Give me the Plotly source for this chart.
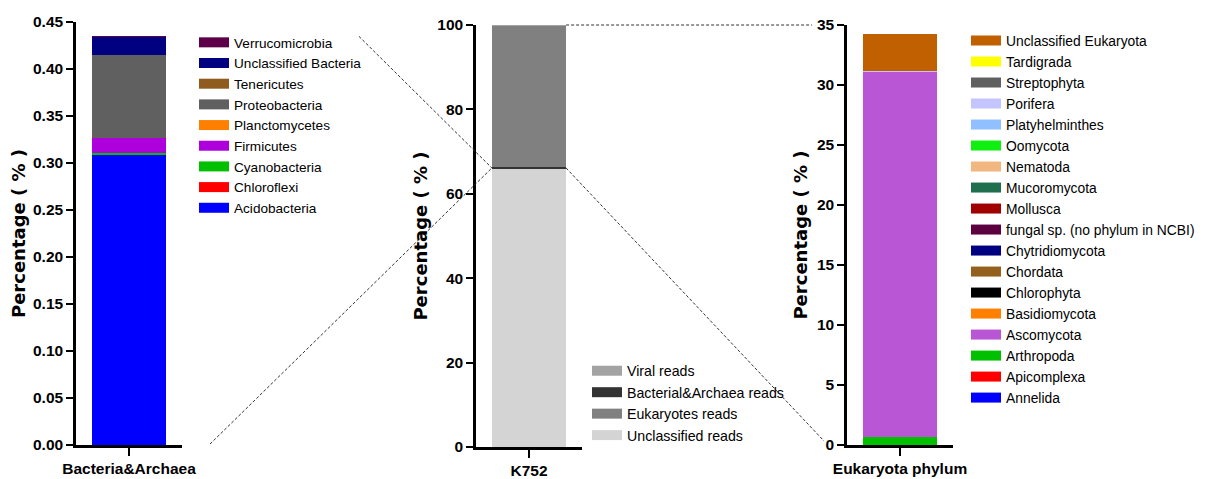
import plotly.graph_objects as go

W, H = 1210, 479
OFF = 8                    # page body margin of the browser
FW, FH = W - OFF, H - OFF  # visible figure size

# ---------------- data ----------------
bact_names = ["Acidobacteria", "Chloroflexi", "Cyanobacteria", "Firmicutes", "Planctomycetes",
              "Proteobacteria", "Tenericutes", "Unclassified Bacteria", "Verrucomicrobia"]
bact_values = [0.309, 0.0001, 0.0012, 0.0165, 0.0001, 0.088, 0.0001, 0.0195, 0.0002]
bact_colors = ["#0000ff", "#ff0000", "#00c000", "#ad00dd", "#ff8000",
               "#606060", "#8f5b1f", "#000080", "#5c004a"]

reads_names = ["Unclassified reads", "Bacterial&Archaea reads", "Eukaryotes reads", "Viral reads"]
reads_values = [65.9, 0.43, 33.6, 0.07]
reads_colors = ["#d4d4d4", "#333333", "#808080", "#a3a3a3"]
reads_legend_order = ["Viral reads", "Bacterial&Archaea reads", "Eukaryotes reads", "Unclassified reads"]

euk_names = ["Annelida", "Apicomplexa", "Arthropoda", "Ascomycota", "Basidiomycota", "Chlorophyta",
             "Chordata", "Chytridiomycota", "fungal sp. (no phylum in NCBI)", "Mollusca", "Mucoromycota",
             "Nematoda", "Oomycota", "Platyhelminthes", "Porifera", "Streptophyta", "Tardigrada",
             "Unclassified Eukaryota"]
euk_values = [0.005, 0.005, 0.65, 30.45, 0.01, 0.005, 0.005, 0.005, 0.005, 0.005, 0.005,
              0.005, 0.005, 0.005, 0.005, 0.01, 0.005, 3.1]
euk_colors = ["#0000ff", "#ff0000", "#00c000", "#b956d6", "#ff8000", "#000000",
              "#94601e", "#000080", "#5c0040", "#a00000", "#1f6f4f",
              "#f2b680", "#10f010", "#90c0ff", "#c4c4ff", "#606060", "#ffff00",
              "#c06000"]

cat_left = ["Bacteria&Archaea"]
cat_mid = ["K752"]
cat_right = ["Eukaryota phylum"]

ticks_left = [0.00, 0.05, 0.10, 0.15, 0.20, 0.25, 0.30, 0.35, 0.40, 0.45]
ticks_mid = [0, 20, 40, 60, 80, 100]
ticks_right = [0, 5, 10, 15, 20, 25, 30, 35]

# ---------------- geometry (window pixels -> paper) ----------------
def px(x):
    return (x - OFF) / FW

def py(y):
    return 1 - (y - OFF) / FH

dom = {
    "x": (px(76), px(182)), "y": (py(445), py(22)),
    "x2": (px(476), px(582)), "y2": (py(447), py(25)),
    "x3": (px(847), px(953)), "y3": (py(445), py(25)),
}
rng = {"y": (0, 0.45), "y2": (0, 100), "y3": (0, 35), "x": (-0.5, 0.5), "x2": (-0.5, 0.5), "x3": (-0.5, 0.5)}

def to_paper(ax, v):
    d0, d1 = dom[ax]
    r0, r1 = rng[ax]
    return d0 + (v - r0) / (r1 - r0) * (d1 - d0)

BARW = 0.7
fig = go.Figure()

def add_panel(names, values, colors, cat, xa, ya, legend, legend_order=None):
    for n, v, c in zip(names, values, colors):
        fig.add_trace(go.Bar(x=cat, y=[v], name=n, marker=dict(color=c, line=dict(width=0)),
                             width=BARW, xaxis=xa, yaxis=ya, showlegend=False, legendgroup=n,
                             hovertemplate=n + ": %{y}<extra></extra>"))
    order = legend_order if legend_order else list(reversed(names))
    cmap = dict(zip(names, colors))
    for n in order:
        fig.add_trace(go.Scatter(x=[None], y=[None], mode="lines", name=n,
                                 line=dict(color=cmap[n], width=10), xaxis=xa, yaxis=ya,
                                 legend=legend, legendgroup=n, hoverinfo="skip"))

add_panel(bact_names, bact_values, bact_colors, cat_left, "x", "y", "legend")
add_panel(reads_names, reads_values, reads_colors, cat_mid, "x2", "y2", "legend2", reads_legend_order)
add_panel(euk_names, euk_values, euk_colors, cat_right, "x3", "y3", "legend3")

tickfont = dict(family="Liberation Sans, Arial, sans-serif", size=15.5, color="black", weight="bold")
titlefont = dict(family="DejaVu Sans, Verdana, sans-serif", size=18, color="black", weight="bold")

def legfont(size):
    return dict(family="Liberation Sans, Arial, sans-serif", size=size, color="black")

def xaxis_cfg(k):
    return dict(domain=list(dom[k]), range=list(rng[k]), type="category", showline=True,
                linecolor="black", linewidth=2.5, ticks="outside", ticklen=8, tickwidth=2,
                tickcolor="black", tickfont=tickfont, showgrid=False, zeroline=False,
                automargin=False)

def yaxis_cfg(k, ticks, fmt, anchor):
    return dict(domain=list(dom[k]), range=list(rng[k]), anchor=anchor, showline=True,
                linecolor="black", linewidth=2.5, ticks="outside", ticklen=7, tickwidth=2,
                tickcolor="black", tickfont=tickfont, tickvals=ticks, tickformat=fmt,
                showgrid=False, zeroline=False, automargin=False,
                title=dict(text="Percentage ( % )", font=titlefont, standoff=5))

layout = dict(
    template="none",
    width=FW, height=FH, margin=dict(l=0, r=0, t=0, b=0, pad=0), autosize=False,
    plot_bgcolor="white", paper_bgcolor="white", barmode="stack",
    xaxis=dict(**xaxis_cfg("x"), anchor="y"),
    xaxis2=dict(**xaxis_cfg("x2"), anchor="y2"),
    xaxis3=dict(**xaxis_cfg("x3"), anchor="y3"),
    yaxis=yaxis_cfg("y", ticks_left, ".2f", "x"),
    yaxis2=yaxis_cfg("y2", ticks_mid, "d", "x2"),
    yaxis3=yaxis_cfg("y3", ticks_right, "d", "x3"),
    legend=dict(x=px(194), y=py(27), xanchor="left", yanchor="top", font=legfont(13.6),
                bgcolor="rgba(0,0,0,0)", tracegroupgap=0),
    legend2=dict(x=px(587), y=py(355), xanchor="left", yanchor="top", font=legfont(14.2),
                 bgcolor="rgba(0,0,0,0)", tracegroupgap=0),
    legend3=dict(x=px(966), y=py(25), xanchor="left", yanchor="top", font=legfont(13.85),
                 bgcolor="rgba(0,0,0,0)", tracegroupgap=0),
)
fig.update_layout(**layout)

# ---------------- dashed connector lines ----------------
band_mid = reads_values[0] + reads_values[1] / 2
mid_left_edge = to_paper("x2", -BARW / 2)
mid_right_edge = to_paper("x2", BARW / 2)
band_y = to_paper("y2", band_mid)
top_y = to_paper("y2", 100)
bact_total = sum(bact_values)

connectors = [
    (px(359), to_paper("y", bact_total), mid_left_edge, band_y),
    (px(210), to_paper("y", 0.001), mid_left_edge, band_y),
    (mid_right_edge, top_y, px(812), to_paper("y3", 35)),
    (mid_right_edge, band_y, px(824), py(441)),
]
for x0, y0, x1, y1 in connectors:
    fig.add_shape(type="line", xref="paper", yref="paper", x0=x0, y0=y0, x1=x1, y1=y1,
                  line=dict(color="#333333", width=1, dash="3px,2px"))

fig.write_html("out.html")
